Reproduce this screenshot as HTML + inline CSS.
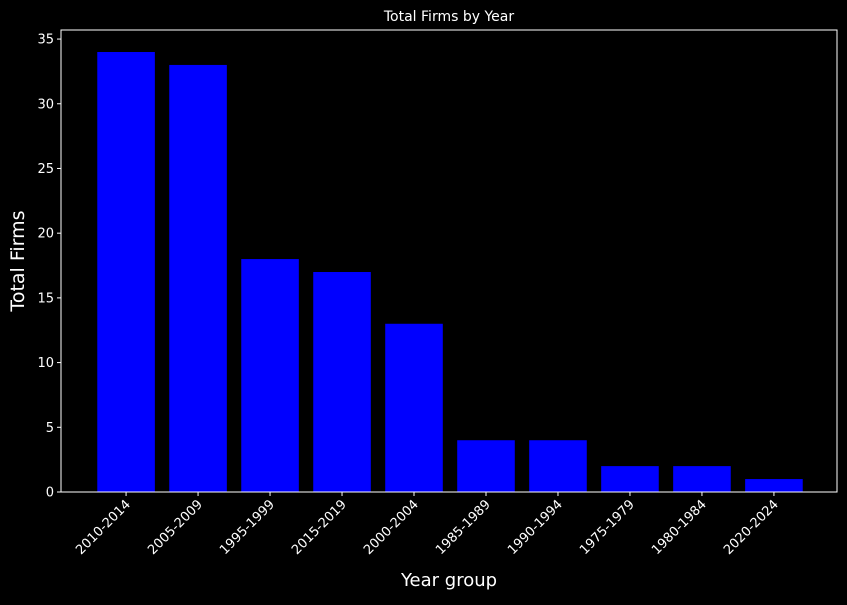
<!DOCTYPE html>
<html><head><meta charset="utf-8"><style>
body{margin:0;background:#000;width:847px;height:600px;overflow:hidden}
text{font-family:"DejaVu Sans","Liberation Sans",sans-serif;fill:#fff}
</style></head><body>
<svg id="chart" width="847" height="600" xmlns="http://www.w3.org/2000/svg">
<rect width="847" height="600" fill="#000"/>
<text x="449" y="21" font-size="14" text-anchor="middle">Total Firms by Year</text>
<g id="bars"></g>
<g id="axes"></g>
<rect x="61" y="30" width="776" height="462" fill="none" stroke="#fff" stroke-width="1"/>
<text x="449" y="586" font-size="18" text-anchor="middle">Year group</text>
<text transform="translate(24,261) rotate(-90)" font-size="19" text-anchor="middle">Total Firms</text>
</svg>
<script>
const categories=["2010-2014","2005-2009","1995-1999","2015-2019","2000-2004","1985-1989","1990-1994","1975-1979","1980-1984","2020-2024"];
const values=[34,33,18,17,13,4,4,2,2,1];
const yTicks=[0,5,10,15,20,25,30,35];
const NS="http://www.w3.org/2000/svg";
const L=61,R=837,T=30,B=492;
const xmin=-0.89,xmax=categories.length-1+0.89;
const ymax=35.7;
const x=i=>L+1+(i-xmin)/(xmax-xmin)*(R-L);
const y=v=>B-v/ymax*(B-T);
const step=(R-L)/(xmax-xmin);
const bars=document.getElementById('bars'),axes=document.getElementById('axes');
function mk(t,a,p){const e=document.createElementNS(NS,t);for(const k in a)e.setAttribute(k,a[k]);p.appendChild(e);return e;}
values.forEach((v,i)=>{
 const r=mk('rect',{x:x(i)-step*0.4,y:y(v),width:step*0.8,height:B-y(v),fill:'#0000ff'},bars);
 
 
});
categories.forEach((c,i)=>{
 const t=mk('line',{x1:x(i),x2:x(i),y1:B,y2:B+4,stroke:'#fff','stroke-width':1},axes);
 
 
 const lb=mk('text',{transform:`translate(${x(i)+5},${B+13}) rotate(-45)`,'font-size':13,'text-anchor':'end'},axes);
 lb.textContent=c;
 
 
});
yTicks.forEach(v=>{
 const t=mk('line',{x1:L-4,x2:L,y1:y(v),y2:y(v),stroke:'#fff','stroke-width':1},axes);
 
 
 const lb=mk('text',{x:L-7,y:y(v)+4.5,'font-size':13,'text-anchor':'end'},axes);
 lb.textContent=v;
 
 
});
</script>
</body></html>
